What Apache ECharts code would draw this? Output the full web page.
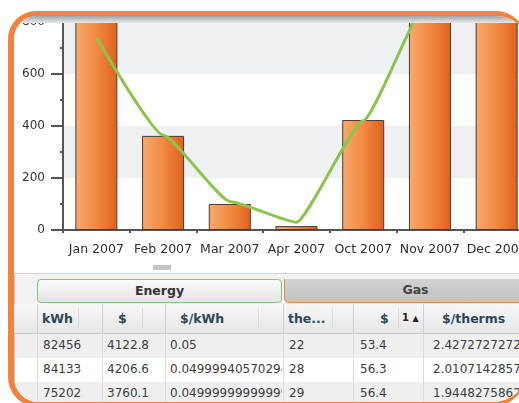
<!DOCTYPE html>
<html>
<head>
<meta charset="utf-8">
<script src="https://cdn.jsdelivr.net/npm/echarts@6/dist/echarts.min.js"></script>
<style>
  html, body { margin: 0; padding: 0; background: #fff; width: 519px; height: 403px; overflow: hidden; }
  body { position: relative; font-family: 'DejaVu Sans', sans-serif; }
  #frame {
    position: absolute; left: 8px; top: 11px; width: 518px; height: 396px;
    box-sizing: border-box; border: solid #f0843f; border-width: 5px 0 5px 6px;
    border-radius: 28px 30px 34px 30px; overflow: hidden; background: #fff;
  }
  /* everything inside is placed in page coordinates: inner origin is (14,16) */
  .abs { position: absolute; }
  #chart { position: absolute; left: -14px; top: -16px; width: 560px; height: 275px; }
  #bevel { left: -14px; top: 0; width: 600px; height: 7px; background: linear-gradient(#9fa3a7, #d4d6d8 70%, #e6e8ea); z-index: 5; }
  #handle { left: 139px; top: 249px; width: 18px; height: 5px; background: #c4c4c4; }
  #table { left: -14px; top: 257px; width: 600px; height: 140px; background: #f2f2f2; border-top: 1px solid #d6d6d6; }
  .cell { position: absolute; white-space: nowrap; overflow: hidden; font-size: 12px; color: #3c3c3c; }
  .hdr { position: absolute; white-space: nowrap; font-size: 12.5px; font-weight: bold; color: #2b4859; }
  .vline { position: absolute; width: 1px; background: #d4d4d4; }
</style>
</head>
<body>
<div id="frame">
  <div id="chart"></div>
  <div id="bevel" class="abs"></div>
  <div id="handle" class="abs"></div>
  <div id="table" class="abs"></div>
</div>
<script>
  // chart data
  const months = ['Jan 2007', 'Feb 2007', 'Mar 2007', 'Apr 2007', 'Oct 2007', 'Nov 2007', 'Dec 2007']
  const barValues = [1150, 362, 100, 15, 423, 1050, 1000]
  const lineValues = [740, 365, 110, 30, 420, 900, 880]
  const yMin = 0
  const yMax = 800
  const yStep = 200

  // table data
  const groupHeaders = ['Energy', 'Gas']
  const columnHeaders = ['kWh', '$', '$/kWh', 'the...', '$', '$/therms']
  const rowsKwh = ['82456', '84133', '75202']
  const rowsCost = ['4122.8', '4206.6', '3760.1']
  const rowsRate = ['0.05', '0.04999940570294', '0.049999999999999996']
  const rowsTherms = ['22', '28', '29']
  const rowsGasCost = ['53.4', '56.3', '56.4']
  const rowsGasRate = ['2.427272727272727', '2.010714285714286', '1.944827586206896']

  const chart = echarts.init(document.getElementById('chart'), null, { renderer: 'canvas' })
  const option = {
    animation: false,
    textStyle: { fontFamily: 'DejaVu Sans' },
    grid: { left: 63, top: 22, width: 467, height: 208, containLabel: false },
    xAxis: {
      type: 'category',
      data: months,
      axisLine: { lineStyle: { color: '#555', width: 2 } },
      axisTick: { show: true, length: 3, lineStyle: { color: '#555', width: 2 } },
      axisLabel: { color: '#2e2e2e', fontSize: 12.5, margin: 13, interval: 0 }
    },
    yAxis: {
      type: 'value',
      min: yMin,
      max: yMax,
      interval: yStep,
      axisLine: { show: true, lineStyle: { color: '#555', width: 2 } },
      axisTick: { show: true, length: 12, lineStyle: { color: '#555', width: 2 } },
      minorTick: { show: true, splitNumber: 2, length: 3, lineStyle: { color: '#555', width: 2 } },
      splitLine: { show: false },
      splitArea: { show: true, areaStyle: { color: ['#ffffff', '#eff0f2'] } },
      axisLabel: { color: '#333', fontSize: 12, margin: 18 }
    },
    series: [{
      type: 'bar',
      barWidth: 42,
      data: barValues,
      itemStyle: {
        color: new echarts.graphic.LinearGradient(0, 0, 1, 0, [
          { offset: 0, color: '#f8aa70' },
          { offset: 0.5, color: '#f08a42' },
          { offset: 1, color: '#e0601c' }
        ]),
        borderColor: '#4b3b33',
        borderWidth: 1
      }
    }, {
      type: 'line',
      data: lineValues,
      smooth: 0.15,
      smoothMonotone: 'x',
      showSymbol: false,
      lineStyle: { color: '#8cc450', width: 3 }
    }]
  }
  chart.setOption(option)

  // table below the chart; helper takes page coordinates
  const table = document.getElementById('table')
  const ox = 0
  const oy = 273
  function add(html, cls, x, y, w, h, style) {
    const d = document.createElement('div')
    d.className = cls
    d.innerHTML = html
    d.style.left = (x - ox) + 'px'
    d.style.top = (y - oy) + 'px'
    if (w != null) d.style.width = w + 'px'
    if (h != null) d.style.height = h + 'px'
    if (style) Object.assign(d.style, style)
    table.appendChild(d)
    return d
  }

  // left gray line of the grid
  add('', 'vline', 14, 273, null, 140, { background: '#c8c8c8' })

  // group header boxes
  add(groupHeaders[0], 'hdr', 37, 278, 245, 24, {
    boxSizing: 'border-box', border: '1.5px solid #7cc87c', borderRadius: '4px',
    background: 'linear-gradient(#fbfbfb, #e4e4e4)', textAlign: 'center', lineHeight: '21px', color: '#333'
  })
  add(groupHeaders[1], 'hdr', 284, 278, 262, 24, {
    boxSizing: 'border-box', borderLeft: '1.5px solid #e8894a', borderBottom: '1.5px solid #e8894a',
    borderRadius: '0 0 0 5px', background: 'linear-gradient(#d2d2d2, #c2c2c2)',
    textAlign: 'center', lineHeight: '22px', color: '#444'
  })

  // column header row
  add('', 'abs', 14, 303, 600, 29, { background: 'linear-gradient(#f7f7f7, #e6e6e6)', borderBottom: '1px solid #c8c8c8' })
  const colLines = [37, 102, 165, 283, 353, 423]
  const subLines = [78, 142, 258, 332, 398]
  colLines.forEach(x => add('', 'vline', x, 303, null, 102, { background: '#cfcfcf' }))
  subLines.forEach(x => add('', 'vline', x, 307, null, 20, { background: '#dadada' }))
  const hdrX = [42, 118, 180, 288, 380, 442]
  columnHeaders.forEach((t, i) => add(t, 'hdr', hdrX[i], 310))
  add('1 <span style="font-size:8px">&#9650;</span>', 'hdr', 402, 311, null, null, { fontSize: '10px', color: '#222' })

  // data rows
  const colLeft = [37, 102, 165, 283, 353, 423]
  const colWidth = [65, 63, 118, 70, 70, 130]
  const colPad = [6, 5, 5, 6, 7, 10]
  const cols = [rowsKwh, rowsCost, rowsRate, rowsTherms, rowsGasCost, rowsGasRate]
  for (let r = 0; r < rowsKwh.length; r++) {
    const y = 333 + r * 24
    add('', 'abs', 15, y, 600, 24, { background: r % 2 === 0 ? '#efefef' : '#ffffff' })
    colLines.forEach(x => add('', 'vline', x, y, null, 24, { background: '#dcdcdc' }))
    cols.forEach((col, c) => {
      add(col[r], 'cell', colLeft[c] + colPad[c], y + 4, colWidth[c] - colPad[c] - 1, 17)
    })
  }
</script>
</body>
</html>
